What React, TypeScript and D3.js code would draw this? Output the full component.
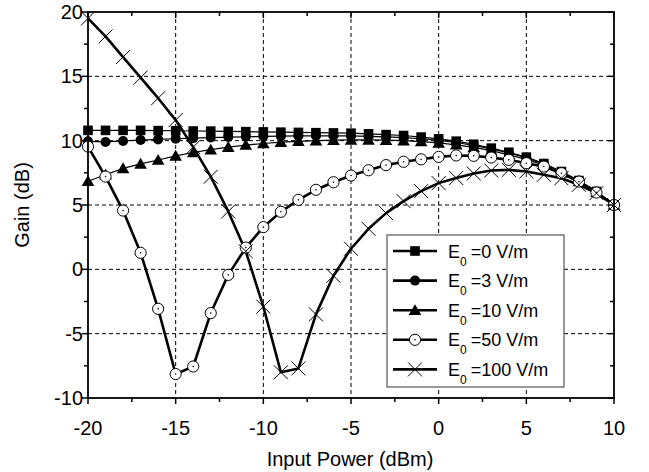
import React from 'react';
import * as d3 from 'd3';

const inputPower = [-20, -19, -18, -17, -16, -15, -14, -13, -12, -11, -10, -9, -8, -7, -6, -5, -4, -3, -2, -1, 0, 1, 2, 3, 4, 5, 6, 7, 8, 9, 10];

const gainE0 = [10.8, 10.8, 10.8, 10.8, 10.78, 10.77, 10.75, 10.74, 10.72, 10.7, 10.68, 10.66, 10.64, 10.62, 10.6, 10.58, 10.53, 10.47, 10.4, 10.28, 10.14, 9.96, 9.72, 9.42, 9.1, 8.72, 8.22, 7.6, 6.9, 6.05, 5.0];
const gainE3 = [9.95, 9.9, 9.98, 10.05, 10.1, 10.15, 10.2, 10.24, 10.28, 10.3, 10.33, 10.35, 10.37, 10.38, 10.38, 10.37, 10.34, 10.3, 10.24, 10.15, 10.03, 9.86, 9.64, 9.36, 9.05, 8.68, 8.2, 7.58, 6.88, 6.03, 5.0];
const gainE10 = [6.85, 7.35, 7.85, 8.2, 8.5, 8.82, 9.08, 9.3, 9.5, 9.66, 9.78, 9.88, 9.95, 10.0, 10.04, 10.06, 10.06, 10.04, 10.0, 9.93, 9.83, 9.68, 9.48, 9.22, 8.9, 8.55, 8.1, 7.5, 6.83, 6.0, 5.0];
const gainE50 = [9.54, 7.21, 4.57, 1.28, -3.07, -8.14, -7.55, -3.4, -0.43, 1.69, 3.28, 4.47, 5.4, 6.18, 6.77, 7.29, 7.7, 8.1, 8.36, 8.55, 8.74, 8.85, 8.82, 8.69, 8.51, 8.25, 7.99, 7.47, 6.82, 5.97, 5.0];
const gainE100 = [19.5, 18.1, 16.5, 14.9, 13.3, 11.6, 9.5, 7.2, 4.5, 1.4, -2.9, -8.0, -7.7, -3.5, -0.5, 1.6, 3.15, 4.37, 5.3, 6.08, 6.7, 7.1, 7.45, 7.68, 7.73, 7.6, 7.35, 7.08, 6.57, 5.92, 5.0];

const seriesNames = ['=0 V/m', '=3 V/m', '=10 V/m', '=50 V/m', '=100 V/m'];
const seriesMarkers = ['square', 'circle', 'triangle', 'open', 'cross'];
const seriesValues = [gainE0, gainE3, gainE10, gainE50, gainE100];
const seriesWidths = [1.2, 1.2, 1.2, 2.6, 2.6];

const xTicks = [-20, -15, -10, -5, 0, 5, 10];
const xMinor = [-17.5, -12.5, -7.5, -2.5, 2.5, 7.5];
const yTicks = [-10, -5, 0, 5, 10, 15, 20];
const yMinor = [-7.5, -2.5, 2.5, 7.5, 12.5, 17.5];

const FONT = 'Liberation Sans, Arial, sans-serif';

function Marker({ type, x, y }: { type: string; x: number; y: number }) {
  if (type === 'square') return <rect x={x - 4.8} y={y - 4.8} width={9.6} height={9.6} fill="#000" />;
  if (type === 'circle') return <circle cx={x} cy={y} r={5} fill="#000" />;
  if (type === 'triangle') {
    const s = 6;
    return <path d={`M${x},${y - s}L${x + s * 1.05},${y + s * 0.8}L${x - s * 1.05},${y + s * 0.8}Z`} fill="#000" />;
  }
  if (type === 'open')
    return (
      <g>
        <circle cx={x} cy={y} r={5.6} fill="#fff" stroke="#000" strokeWidth={1} />
        <circle cx={x} cy={y} r={0.8} fill="#000" />
      </g>
    );
  const a = 7;
  return <path d={`M${x - a},${y - a}L${x + a},${y + a}M${x - a},${y + a}L${x + a},${y - a}`} stroke="#000" strokeWidth={1} fill="none" />;
}

export default function App() {
  const W = 649, H = 472;
  const left = 88, right = 614, top = 12, bottom = 398;
  const x = d3.scaleLinear().domain([-20, 10]).range([left, right]);
  const y = d3.scaleLinear().domain([-10, 20]).range([bottom, top]);
  const line = d3.line<number>().x((_, i) => x(inputPower[i])).y((v) => y(v));

  const legX = 387, legY = 235, legW = 177, legH = 152, legStep = 29.6;

  return (
    <div style={{ position: 'fixed', left: 0, top: 0 }}>
      <svg width={W} height={H} style={{ display: 'block', background: '#fff' }} fontFamily={FONT}>
        {xTicks.filter((t) => t > -20 && t < 10).map((t) => (
          <line key={'gx' + t} x1={x(t)} x2={x(t)} y1={top} y2={bottom} stroke="#000" strokeWidth={1} strokeDasharray="4,3" />
        ))}
        {yTicks.filter((t) => t > -10 && t < 20).map((t) => (
          <line key={'gy' + t} x1={left} x2={right} y1={y(t)} y2={y(t)} stroke="#000" strokeWidth={1} strokeDasharray="4,3" />
        ))}
        {seriesValues.map((vals, si) => (
          <path key={'l' + si} d={line(vals) || ''} fill="none" stroke="#000" strokeWidth={seriesWidths[si]} strokeLinejoin="round" />
        ))}
        {seriesValues.map((vals, si) => (
          <g key={'m' + si}>
            {vals.map((v, i) => (
              <Marker key={i} type={seriesMarkers[si]} x={x(inputPower[i])} y={y(v)} />
            ))}
          </g>
        ))}
        <rect x={left} y={top} width={right - left} height={bottom - top} fill="none" stroke="#000" strokeWidth={1.8} />
        {xTicks.map((t) => (
          <line key={'bt' + t} x1={x(t)} x2={x(t)} y1={bottom} y2={bottom + 6} stroke="#000" strokeWidth={1.5} />
        ))}
        {xMinor.map((t) => (
          <line key={'bm' + t} x1={x(t)} x2={x(t)} y1={bottom} y2={bottom + 4} stroke="#000" strokeWidth={1.5} />
        ))}
        {xTicks.map((t) => (
          <line key={'tt' + t} x1={x(t)} x2={x(t)} y1={top} y2={top + 6} stroke="#000" strokeWidth={1.5} />
        ))}
        {xMinor.map((t) => (
          <line key={'tm' + t} x1={x(t)} x2={x(t)} y1={top} y2={top + 4} stroke="#000" strokeWidth={1.5} />
        ))}
        {yTicks.map((t) => (
          <line key={'lt' + t} x1={left - 6} x2={left} y1={y(t)} y2={y(t)} stroke="#000" strokeWidth={1.5} />
        ))}
        {yMinor.map((t) => (
          <line key={'lm' + t} x1={left - 4} x2={left} y1={y(t)} y2={y(t)} stroke="#000" strokeWidth={1.5} />
        ))}
        {yTicks.map((t) => (
          <line key={'rt' + t} x1={right - 6} x2={right} y1={y(t)} y2={y(t)} stroke="#000" strokeWidth={1.5} />
        ))}
        {yMinor.map((t) => (
          <line key={'rm' + t} x1={right - 4} x2={right} y1={y(t)} y2={y(t)} stroke="#000" strokeWidth={1.5} />
        ))}
        {xTicks.map((t) => (
          <text key={'xl' + t} x={x(t)} y={bottom + 37} textAnchor="middle" fontSize={20} fill="#000">
            {t}
          </text>
        ))}
        {yTicks.map((t) => (
          <text key={'yl' + t} x={left - 5} y={y(t) + 7} textAnchor="end" fontSize={20} fill="#000">
            {t}
          </text>
        ))}
        <text x={(left + right) / 2 - 1} y={466} textAnchor="middle" fontSize={20} fill="#000">
          Input Power (dBm)
        </text>
        <text transform={`translate(29,${(top + bottom) / 2}) rotate(-90)`} textAnchor="middle" fontSize={20} fill="#000">
          Gain (dB)
        </text>
        <rect x={legX} y={legY} width={legW} height={legH} fill="#fff" stroke="#555" strokeWidth={1.2} />
        {seriesNames.map((name, i) => {
          const cy = legY + 16 + i * legStep;
          return (
            <g key={'lg' + i}>
              <line x1={legX + 6} x2={legX + 50} y1={cy} y2={cy} stroke="#000" strokeWidth={2.6} />
              <Marker type={seriesMarkers[i]} x={legX + 28} y={cy} />
              <text x={legX + 61} y={cy + 6.5} fontSize={18} fill="#000">
                E
                <tspan dy={8} fontSize={12}>0</tspan>
                <tspan dy={-8} dx={4}>{name}</tspan>
              </text>
            </g>
          );
        })}
      </svg>
    </div>
  );
}
